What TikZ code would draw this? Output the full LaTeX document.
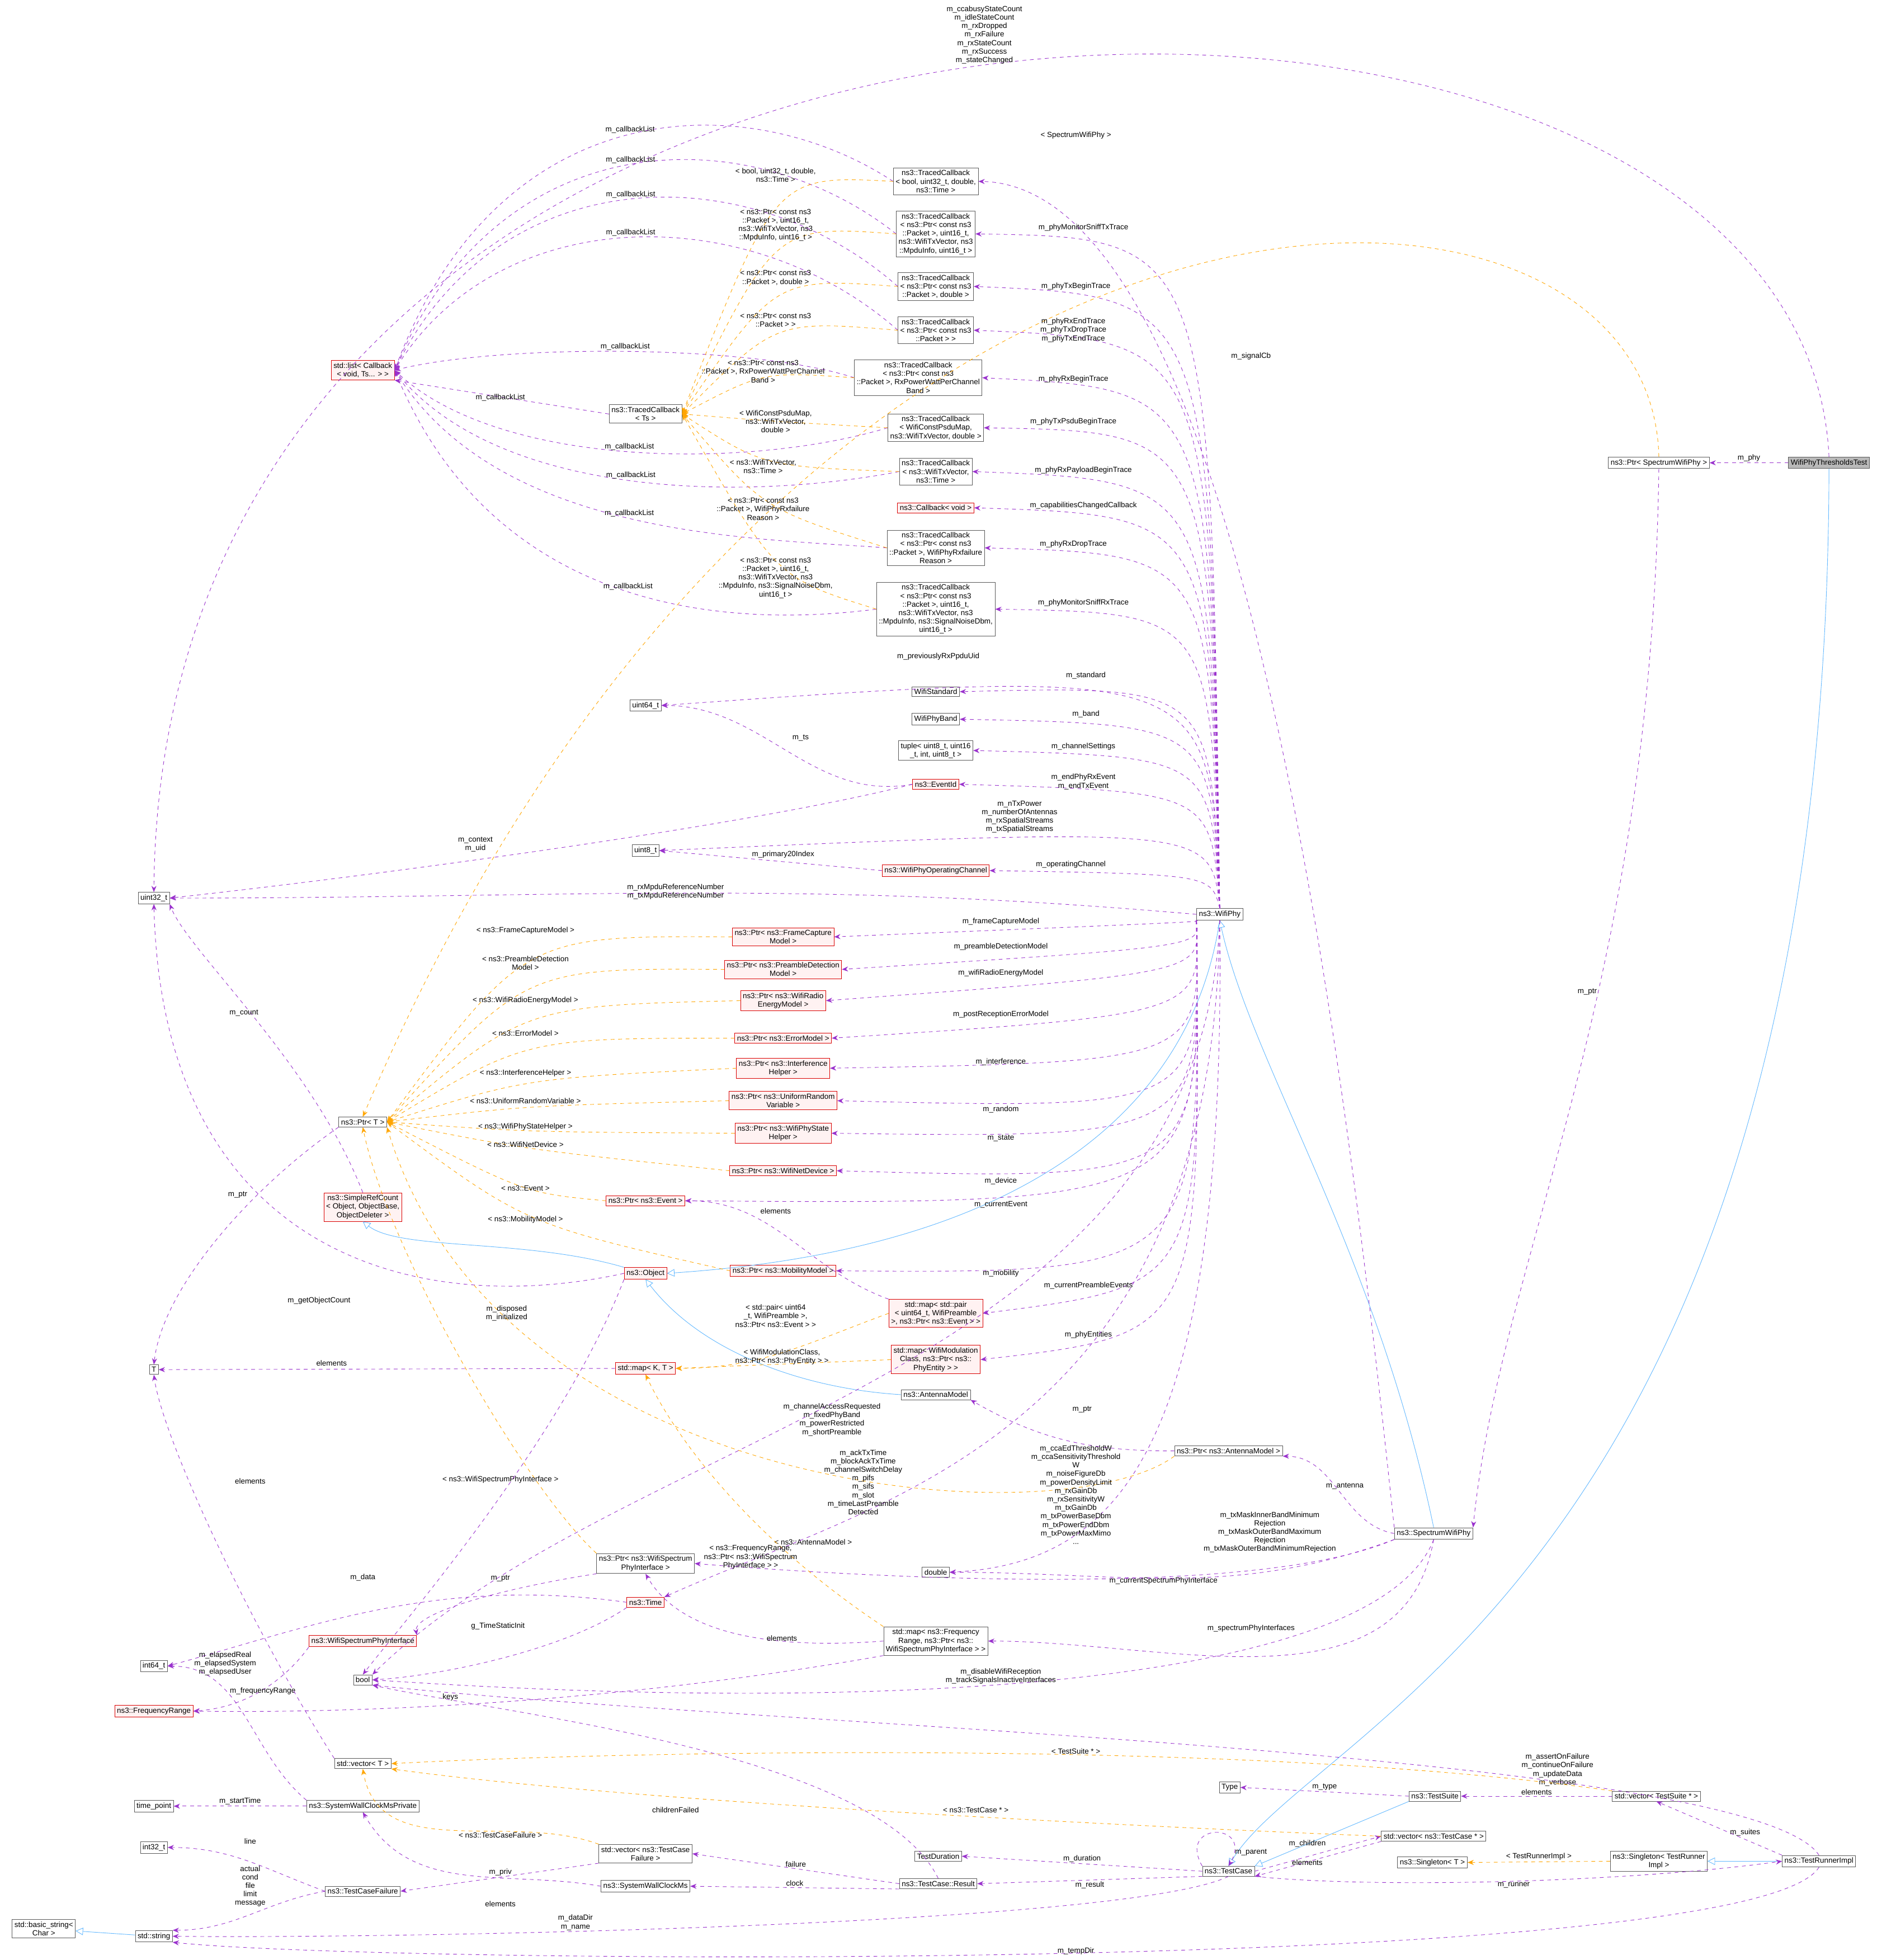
\documentclass[tikz,border=0pt]{standalone}
\usepackage{fontspec}
\setmainfont{Liberation Sans}
\usetikzlibrary{arrows.meta}
\definecolor{usecol}{HTML}{9A32CD}
\definecolor{tmplcol}{HTML}{FFA500}
\definecolor{inhcol}{HTML}{63B8FF}
\newcommand\fs{\fontsize{6}{6.8}\selectfont}
\tikzset{
  box/.style={draw=black!65, fill=white, inner sep=1.8pt, align=center, font=\fs},
  redbox/.style={box, draw=red!85!black, fill=red!5},
  use/.style={draw=usecol, dashed, -{Stealth[length=5pt,width=4pt]}},
  tmpl/.style={draw=tmplcol, dashed, -{Stealth[length=5pt,width=4pt]}},
  inh/.style={draw=inhcol, -{Triangle[open,length=6pt,width=6pt]}},
  lbl/.style={font=\fs, text=black, align=center, inner sep=1pt}
}
\begin{document}
\begin{tikzpicture}[x=1pt,y=-1pt]
\useasboundingbox (0,0) rectangle (1500,1567);
% classes
\node[box, fill=gray!55] (test) at (1462,370) {WifiPhyThresholdsTest};
\node[box] (ptrspec) at (1326,370) {ns3::Ptr< SpectrumWifiPhy >};
\node[box] (wifiphy) at (975,731) {ns3::WifiPhy};
\node[box] (specphy) at (1146,1226) {ns3::SpectrumWifiPhy};
\node[box] (testcase) at (982,1496) {ns3::TestCase};
\node[box] (runner) at (1454,1488) {ns3::TestRunnerImpl};
\node[box] (singrun) at (1326,1488) {ns3::Singleton< TestRunner\\Impl >};
\node[box] (vecsuite) at (1324,1436) {std::vector< TestSuite * >};
\node[box] (suite) at (1147,1436) {ns3::TestSuite};
\node[box] (type) at (983,1429) {Type};
\node[box] (veccase) at (1146,1468) {std::vector< ns3::TestCase * >};
\node[box] (singt) at (1145,1489) {ns3::Singleton< T >};
\node[box] (ptrant) at (982,1160) {ns3::Ptr< ns3::AntennaModel >};
\node[box] (antenna) at (748,1115) {ns3::AntennaModel};
\node[box] (duration) at (750,1484) {TestDuration};
\node[box] (result) at (750,1506) {ns3::TestCase::Result};
\node[box] (clockms) at (516,1508) {ns3::SystemWallClockMs};
\node[box] (vecfail) at (516,1482) {std::vector< ns3::TestCase\\Failure >};
\node[box] (mapfreq) at (748,1312) {std::map< ns3::Frequency\\Range, ns3::Ptr< ns3::\\WifiSpectrumPhyInterface > >};
\node[box] (double) at (748,1257) {double};
\node[box] (ptrspi) at (516,1250) {ns3::Ptr< ns3::WifiSpectrum\\PhyInterface >};
\node[redbox] (time) at (516,1281) {ns3::Time};
\node[redbox] (mappre) at (748,1050) {std::map< std::pair\\< uint64\_t, WifiPreamble\\ >, ns3::Ptr< ns3::Event > >};
\node[redbox] (mapmod) at (748,1087) {std::map< WifiModulation\\Class, ns3::Ptr< ns3::\\PhyEntity > >};
\node[redbox] (mapkt) at (516,1094) {std::map< K, T >};
\node[redbox] (object) at (516,1018) {ns3::Object};
\node[redbox] (ptrmob) at (626,1016) {ns3::Ptr< ns3::MobilityModel >};
\node[redbox] (ptrevent) at (516,960) {ns3::Ptr< ns3::Event >};
\node[redbox] (ptrdev) at (626,936) {ns3::Ptr< ns3::WifiNetDevice >};
\node[redbox] (ptrstate) at (626,906) {ns3::Ptr< ns3::WifiPhyState\\Helper >};
\node[redbox] (ptrrand) at (626,880) {ns3::Ptr< ns3::UniformRandom\\Variable >};
\node[redbox] (ptrinterf) at (626,854) {ns3::Ptr< ns3::Interference\\Helper >};
\node[redbox] (ptrerr) at (626,830) {ns3::Ptr< ns3::ErrorModel >};
\node[redbox] (ptrenergy) at (626,800) {ns3::Ptr< ns3::WifiRadio\\EnergyModel >};
\node[redbox] (ptrpreamble) at (626,775) {ns3::Ptr< ns3::PreambleDetection\\Model >};
\node[redbox] (ptrcapture) at (626,749) {ns3::Ptr< ns3::FrameCapture\\Model >};
\node[redbox] (opchan) at (748,696) {ns3::WifiPhyOperatingChannel};
\node[redbox] (eventid) at (748,627) {ns3::EventId};
\node[box] (tuple) at (748,600) {tuple< uint8\_t, uint16\\\_t, int, uint8\_t >};
\node[box] (band) at (748,575) {WifiPhyBand};
\node[box] (standard) at (748,553) {WifiStandard};
\node[box] (uint64) at (516,564) {uint64\_t};
\node[box] (uint8) at (516,680) {uint8\_t};
\node[box] (uint32) at (123,718) {uint32\_t};
\node[box] (ptrt) at (290,897) {ns3::Ptr< T >};
\node[redbox] (refcount) at (290,965) {ns3::SimpleRefCount\\< Object, ObjectBase,\\ObjectDeleter >};
\node[box] (t) at (123,1095) {T};
\node[box] (int64) at (123,1332) {int64\_t};
\node[box] (bool) at (290,1343) {bool};
\node[redbox] (freqrange) at (123,1368) {ns3::FrequencyRange};
\node[redbox] (spi) at (290,1312) {ns3::WifiSpectrumPhyInterface};
\node[box] (vect) at (290,1410) {std::vector< T >};
\node[box] (wallpriv) at (290,1444) {ns3::SystemWallClockMsPrivate};
\node[box] (timepoint) at (123,1444) {time\_point};
\node[box] (int32) at (123,1477) {int32\_t};
\node[box] (failure) at (290,1512) {ns3::TestCaseFailure};
\node[box] (string) at (123,1548) {std::string};
\node[box] (basicstr) at (35,1542) {std::basic\_string<\\Char >};
\node[redbox] (cblist) at (290,296) {std::list< Callback\\< void, Ts... > >};
\node[box] (tcts) at (516,331) {ns3::TracedCallback\\< Ts >};
\node[box] (tc1) at (748,145) {ns3::TracedCallback\\< bool, uint32\_t, double,\\ns3::Time >};
\node[box] (tc2) at (748,187) {ns3::TracedCallback\\< ns3::Ptr< const ns3\\::Packet >, uint16\_t,\\ns3::WifiTxVector, ns3\\::MpduInfo, uint16\_t >};
\node[box] (tc3) at (748,229) {ns3::TracedCallback\\< ns3::Ptr< const ns3\\::Packet >, double >};
\node[box] (tc4) at (748,264) {ns3::TracedCallback\\< ns3::Ptr< const ns3\\::Packet > >};
\node[box] (tc5) at (734,302) {ns3::TracedCallback\\< ns3::Ptr< const ns3\\::Packet >, RxPowerWattPerChannel\\Band >};
\node[box] (tc6) at (748,342) {ns3::TracedCallback\\< WifiConstPsduMap,\\ns3::WifiTxVector, double >};
\node[box] (tc7) at (748,377) {ns3::TracedCallback\\< ns3::WifiTxVector,\\ns3::Time >};
\node[redbox] (cbvoid) at (748,406) {ns3::Callback< void >};
\node[box] (tc8) at (748,438) {ns3::TracedCallback\\< ns3::Ptr< const ns3\\::Packet >, WifiPhyRxfailure\\Reason >};
\node[box] (tc9) at (748,487) {ns3::TracedCallback\\< ns3::Ptr< const ns3\\::Packet >, uint16\_t,\\ns3::WifiTxVector, ns3\\::MpduInfo, ns3::SignalNoiseDbm,\\uint16\_t >};

% inheritance
\draw[inh] (test.south) .. controls (1460,1250) and (1050,1380) .. (testcase.north);
\draw[inh] (specphy.north) .. controls (1100,1000) and (1000,850) .. (wifiphy.south);
\draw[inh] (wifiphy.south) .. controls (950,900) and (800,1000) .. (object.east);
\draw[inh] (antenna.west) .. controls (640,1110) and (560,1080) .. (object.south);
\draw[inh] (object.north west) .. controls (420,990) and (320,1000) .. (refcount.south);
\draw[inh] (string) -- (basicstr);
\draw[inh] (runner) -- (singrun);
\draw[inh] (suite.south west) -- (testcase.north east);

% test members
\draw[use] (test) -- node[lbl,above]{m\_phy} (ptrspec);
\draw[use] (test.north) .. controls (1440,-110) and (130,-110) .. node[lbl,pos=.5,above]{m\_ccabusyStateCount\\m\_idleStateCount\\m\_rxDropped\\m\_rxFailure\\m\_rxStateCount\\m\_rxSuccess\\m\_stateChanged} (uint32.north);
\draw[use] (ptrspec.south) .. controls (1320,800) and (1200,1000) .. node[lbl,pos=.4,left]{m\_ptr} (specphy.north east);
\draw[tmpl] (ptrspec.north) .. controls (1320,90) and (640,70) .. (ptrt.north) node[lbl] at (860,108) {< SpectrumWifiPhy >};

% spectrum phy members
\draw[use] (specphy.north west) .. controls (1080,900) and (1000,150) .. (tc1.east) node[lbl] at (1000,285) {m\_signalCb};
\draw[use] (specphy.west) to[out=170,in=0] (ptrant.south east) node[lbl] at (1075,1188) {m\_antenna};
\draw[use] (specphy.south west) to[out=200,in=0] (double.east) node[lbl] at (1015,1225) {m\_txMaskInnerBandMinimum\\Rejection\\m\_txMaskOuterBandMaximum\\Rejection\\m\_txMaskOuterBandMinimumRejection};
\draw[use] (specphy.south west) .. controls (1000,1280) and (680,1260) .. (ptrspi.east) node[lbl] at (930,1264) {m\_currentSpectrumPhyInterface};
\draw[use] (specphy.south) to[out=-100,in=0] (mapfreq.east) node[lbl] at (1000,1302) {m\_spectrumPhyInterfaces};
\draw[use] (specphy.south) .. controls (1100,1350) and (700,1370) .. (bool.east) node[lbl] at (800,1340) {m\_disableWifiReception\\m\_trackSignalsInactiveInterfaces};
\draw[use] (ptrant.west) to[out=180,in=-30] (antenna.south east) node[lbl] at (865,1127) {m\_ptr};
\draw[tmpl] (ptrant.south west) .. controls (850,1230) and (400,1200) .. (ptrt.south east) node[lbl] at (650,1233) {< ns3::AntennaModel >};

% wifi phy members, upwards
\foreach \tgt/\lx/\ly/\txt in {tc2/866/182/m\_phyMonitorSniffTxTrace, tc3/860/229/m\_phyTxBeginTrace, tc4/858/264/{m\_phyRxEndTrace\\m\_phyTxDropTrace\\m\_phyTxEndTrace}, tc5/858/303/m\_phyRxBeginTrace, tc6/858/337/m\_phyTxPsduBeginTrace, tc7/866/376/m\_phyRxPayloadBeginTrace, cbvoid/866/404/m\_capabilitiesChangedCallback, tc8/858/435/m\_phyRxDropTrace, tc9/866/482/m\_phyMonitorSniffRxTrace, uint64/750/525/m\_previouslyRxPpduUid, standard/868/540/m\_standard, band/868/571/m\_band, tuple/866/597/m\_channelSettings, eventid/866/625/{m\_endPhyRxEvent\\m\_endTxEvent}, uint8/815/653/{m\_nTxPower\\m\_numberOfAntennas\\m\_rxSpatialStreams\\m\_txSpatialStreams}, opchan/856/691/m\_operatingChannel}
  \draw[use] (wifiphy.north) .. controls (968,\ly+8) .. (\tgt.east) node[lbl] at (\lx,\ly) {\txt};
\draw[use] (wifiphy.west) to[out=175,in=0] (uint32.east) node[lbl] at (540,713) {m\_rxMpduReferenceNumber\\m\_txMpduReferenceNumber};
% wifi phy members, downwards
\foreach \tgt/\lx/\ly/\txt in {ptrcapture/800/737/m\_frameCaptureModel, ptrpreamble/800/757/m\_preambleDetectionModel, ptrenergy/800/778/m\_wifiRadioEnergyModel, ptrerr/800/811/m\_postReceptionErrorModel, ptrinterf/800/849/m\_interference, ptrrand/800/887/m\_random, ptrstate/800/910/m\_state, ptrdev/800/944/m\_device, ptrevent/800/963/m\_currentEvent, ptrmob/800/1018/m\_mobility, mappre/870/1028/m\_currentPreambleEvents, mapmod/870/1067/m\_phyEntities}
  \draw[use] (wifiphy.south west) .. controls (960,\ly) .. (\tgt.east) node[lbl] at (\lx,\ly) {\txt};
\draw[use] (wifiphy.south) .. controls (960,1100) and (500,1140) .. (bool.north east) node[lbl] at (665,1135) {m\_channelAccessRequested\\m\_fixedPhyBand\\m\_powerRestricted\\m\_shortPreamble};
\draw[use] (wifiphy.south) .. controls (970,1150) and (700,1200) .. (time.north east) node[lbl] at (690,1185) {m\_ackTxTime\\m\_blockAckTxTime\\m\_channelSwitchDelay\\m\_pifs\\m\_sifs\\m\_slot\\m\_timeLastPreamble\\Detected};
\draw[use] (wifiphy.south) .. controls (980,1150) and (900,1250) .. (double.east) node[lbl] at (860,1195) {m\_ccaEdThresholdW\\m\_ccaSensitivityThreshold\\W\\m\_noiseFigureDb\\m\_powerDensityLimit\\m\_rxGainDb\\m\_rxSensitivityW\\m\_txGainDb\\m\_txPowerBaseDbm\\m\_txPowerEndDbm\\m\_txPowerMaxMimo\\...};

% traced callbacks
\foreach \src/\ly in {tc1/70,tc2/95,tc3/125,tc4/160,tc5/275,tc6/375,tc7/400,tc8/430,tc9/500}
  \draw[use] (\src.west) .. controls (600,\ly) and (400,\ly) .. node[lbl,above,pos=.5]{m\_callbackList} (cblist.east);
\draw[use] (tcts.west) -- (cblist.south east) node[lbl] at (400,318) {m\_callbackList};
\foreach \src/\lx/\ly/\txt in {tc1/620/140/{< bool, uint32\_t, double,\\ns3::Time >}, tc2/620/180/{< ns3::Ptr< const ns3\\::Packet >, uint16\_t,\\ns3::WifiTxVector, ns3\\::MpduInfo, uint16\_t >}, tc3/620/222/{< ns3::Ptr< const ns3\\::Packet >, double >}, tc4/620/256/{< ns3::Ptr< const ns3\\::Packet > >}, tc5/610/297/{< ns3::Ptr< const ns3\\::Packet >, RxPowerWattPerChannel\\Band >}, tc6/620/337/{< WifiConstPsduMap,\\ns3::WifiTxVector,\\double >}, tc7/610/373/{< ns3::WifiTxVector,\\ns3::Time >}, tc8/610/407/{< ns3::Ptr< const ns3\\::Packet >, WifiPhyRxfailure\\Reason >}, tc9/620/462/{< ns3::Ptr< const ns3\\::Packet >, uint16\_t,\\ns3::WifiTxVector, ns3\\::MpduInfo, ns3::SignalNoiseDbm,\\uint16\_t >}}
  \draw[tmpl] (\src.west) .. controls (\lx,\ly) .. (tcts.east) node[lbl] at (\lx,\ly) {\txt};

% smart pointers
\foreach \src/\lx/\ly/\txt in {ptrcapture/420/744/{< ns3::FrameCaptureModel >}, ptrpreamble/420/770/{< ns3::PreambleDetection\\Model >}, ptrenergy/420/800/{< ns3::WifiRadioEnergyModel >}, ptrerr/420/826/{< ns3::ErrorModel >}, ptrinterf/420/858/{< ns3::InterferenceHelper >}, ptrrand/420/880/{< ns3::UniformRandomVariable >}, ptrstate/420/901/{< ns3::WifiPhyStateHelper >}, ptrdev/420/915/{< ns3::WifiNetDevice >}, ptrevent/420/950/{< ns3::Event >}, ptrmob/420/975/{< ns3::MobilityModel >}}
  \draw[tmpl] (\src.west) .. controls (\lx,\ly+4) .. (ptrt.east) node[lbl] at (\lx,\ly) {\txt};
\draw[tmpl] (ptrspi.north west) .. controls (420,1190) and (310,1000) .. (ptrt.south) node[lbl] at (400,1183) {< ns3::WifiSpectrumPhyInterface >};
\draw[use] (ptrt.south west) .. controls (200,950) and (130,1030) .. (t.north) node[lbl] at (190,955) {m\_ptr};
\draw[use] (ptrspi.south west) .. controls (400,1270) and (330,1290) .. (spi.north east) node[lbl] at (400,1262) {m\_ptr};
\draw[use] (spi.south west) .. controls (230,1340) and (200,1365) .. (freqrange.east) node[lbl] at (210,1352) {m\_frequencyRange};

% maps
\draw[use] (mappre.north west) to[out=160,in=0] (ptrevent.east) node[lbl] at (620,968) {elements};
\draw[tmpl] (mappre.west) to[out=200,in=0] (mapkt.east) node[lbl] at (620,1052) {< std::pair< uint64\\\_t, WifiPreamble >,\\ns3::Ptr< ns3::Event > >};
\draw[tmpl] (mapmod.west) -- (mapkt.east) node[lbl] at (625,1085) {< WifiModulationClass,\\ns3::Ptr< ns3::PhyEntity > >};
\draw[use] (mapkt.west) -- (t.east) node[lbl] at (265,1090) {elements};
\draw[use] (mapfreq.west) .. controls (600,1320) and (540,1300) .. (ptrspi.south) node[lbl] at (625,1310) {elements};
\draw[use] (mapfreq.south west) .. controls (500,1360) and (300,1370) .. (freqrange.east) node[lbl] at (360,1357) {keys};
\draw[tmpl] (mapfreq.north west) .. controls (600,1230) and (540,1150) .. (mapkt.south) node[lbl] at (600,1245) {< ns3::FrequencyRange,\\ns3::Ptr< ns3::WifiSpectrum\\PhyInterface > >};

% object and base types
\draw[use] (object.south west) .. controls (450,1150) and (320,1300) .. (bool.north) node[lbl] at (405,1050) {m\_disposed\\m\_initialized};
\draw[use] (object.west) .. controls (330,1055) and (130,1000) .. (uint32.south) node[lbl] at (255,1040) {m\_getObjectCount};
\draw[use] (refcount.north) .. controls (250,850) and (150,760) .. (uint32.south east) node[lbl] at (195,810) {m\_count};
\draw[use] (eventid.west) to[out=190,in=0] (uint64.east) node[lbl] at (640,590) {m\_ts};
\draw[use] (eventid.west) .. controls (600,660) and (300,700) .. (uint32.east) node[lbl] at (380,675) {m\_context\\m\_uid};
\draw[use] (opchan.west) -- (uint8.east) node[lbl] at (626,683) {m\_primary20Index};
\draw[use] (time.west) .. controls (350,1260) and (250,1300) .. (int64.east) node[lbl] at (290,1261) {m\_data};
\draw[use] (time.south west) .. controls (450,1320) and (350,1340) .. (bool.east) node[lbl] at (398,1300) {g\_TimeStaticInit};

% test framework
\draw[use] (testcase.north west) to[out=120,in=60,looseness=5] (testcase.north) node[lbl] at (1000,1481) {m\_parent};
\draw[use] (testcase.east) -- (veccase.west) node[lbl] at (1045,1474) {m\_children};
\draw[use] (veccase.south west) -- (testcase.south east) node[lbl] at (1045,1489) {elements};
\draw[use] (testcase.west) -- node[lbl,above]{m\_duration} (duration.east);
\draw[use] (testcase.south west) -- node[lbl,below]{m\_result} (result.east);
\draw[use] (testcase.south) .. controls (900,1540) and (300,1550) .. (string.east) node[lbl] at (460,1537) {m\_dataDir\\m\_name};
\draw[use] (testcase.south east) .. controls (1100,1510) and (1300,1505) .. (runner.west) node[lbl] at (1210,1507) {m\_runner};
\draw[use] (runner.north) .. controls (1400,1400) and (600,1380) .. (bool.south east) node[lbl] at (1245,1415) {m\_assertOnFailure\\m\_continueOnFailure\\m\_updateData\\m\_verbose};
\draw[use] (runner.north west) -- (vecsuite.south) node[lbl] at (1395,1465) {m\_suites};
\draw[use] (runner.south) .. controls (1400,1580) and (300,1570) .. (string.south east) node[lbl] at (860,1560) {m\_tempDir};
\draw[use] (vecsuite.west) -- node[lbl,above]{elements} (suite.east);
\draw[use] (suite.west) -- node[lbl,above]{m\_type} (type.east);
\draw[tmpl] (singrun.west) -- node[lbl,above]{< TestRunnerImpl >} (singt.east);
\draw[tmpl] (vecsuite.north west) .. controls (1000,1390) and (500,1400) .. (vect.east) node[lbl] at (860,1400) {< TestSuite * >};
\draw[tmpl] (veccase.west) .. controls (900,1460) and (500,1440) .. (vect.south east) node[lbl] at (780,1447) {< ns3::TestCase * >};
\draw[use] (result.west) -- node[lbl,above]{failure} (vecfail.east);
\draw[use] (result.south west) -- node[lbl,above]{clock} (clockms.east);
\draw[use] (result.north) .. controls (700,1400) and (400,1370) .. (bool.south east) node[lbl] at (540,1447) {childrenFailed};
\draw[use] (vecfail.south west) -- (failure.east) node[lbl] at (400,1522) {elements};
\draw[tmpl] (vecfail.north west) to[out=160,in=-80] (vect.south) node[lbl] at (400,1467) {< ns3::TestCaseFailure >};
\draw[use] (clockms.west) to[out=170,in=-60] (wallpriv.south) node[lbl] at (400,1497) {m\_priv};
\draw[use] (wallpriv.west) -- node[lbl,above]{m\_startTime} (timepoint.east);
\draw[use] (wallpriv.north west) to[out=140,in=0] (int64.east) node[lbl] at (180,1330) {m\_elapsedReal\\m\_elapsedSystem\\m\_elapsedUser};
\draw[use] (failure.west) to[out=160,in=0] (int32.east) node[lbl] at (200,1472) {line};
\draw[use] (failure.west) to[out=190,in=0] (string.north east) node[lbl] at (200,1508) {actual\\cond\\file\\limit\\message};
\draw[use] (vect.north west) .. controls (200,1300) and (130,1150) .. (t.south) node[lbl] at (200,1184) {elements};
\end{tikzpicture}
\end{document}
